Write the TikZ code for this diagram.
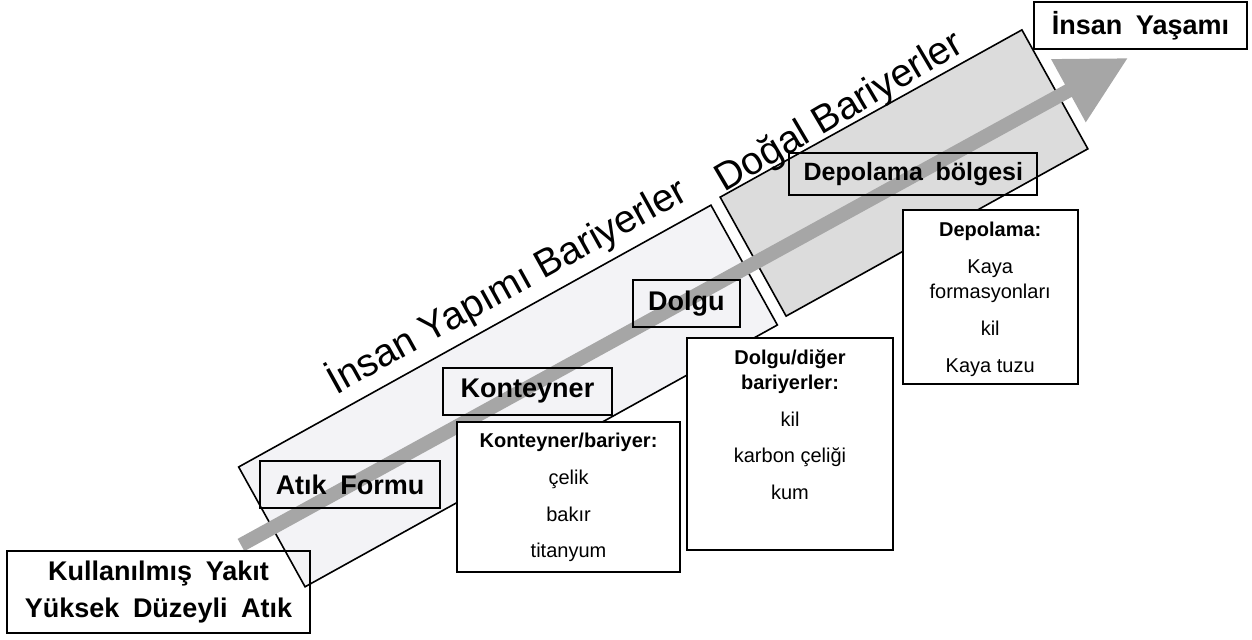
\documentclass[tikz,border=0pt]{standalone}
\usepackage{fontspec}
\setmainfont{Liberation Sans}
\newfontfamily\etiketfont[WordSpace=1.8]{Liberation Sans}
\usetikzlibrary{positioning,arrows.meta}

\definecolor{yapimgri}{HTML}{F3F3F6}
\definecolor{dogalgri}{HTML}{DCDCDC}
\definecolor{okgri}{HTML}{A6A6A6}

\tikzset{
  bant/.style={draw=black, line width=0.8pt, rotate=29, inner sep=0pt},
  etiket/.style={draw=black, line width=1pt, inner sep=0pt, align=center,
    font=\etiketfont\bfseries\fontsize{13.5}{18.5}\selectfont},
  bilgikutu/.style={draw=black, fill=white, line width=1pt, inner sep=0pt},
  bilgiyazi/.style={inner sep=0pt, align=center, font=\fontsize{10}{12.5}\selectfont},
  bantyazi/.style={anchor=base, inner sep=0pt, font=\fontsize{19.5}{22}\selectfont}
}

\begin{document}
\begin{tikzpicture}[x=0.5pt,y=-0.5pt]
  \useasboundingbox (0,0) rectangle (1252,640);
  % bariyer bantlari
  \node[bant, fill=yapimgri, minimum width=270pt, minimum height=68.5pt] (yapim) at (508,396) {};
  \node[bant, fill=dogalgri, minimum width=172.5pt, minimum height=68pt] (dogal) at (904,173) {};
  % akis oku
  \coordinate (akisbas) at (241,545);
  \coordinate (akisuc) at (1128,58);
  \draw[okgri, line width=7pt, -{Triangle[length=34pt,width=34pt]}] (akisbas) -- (akisuc);
  % bant etiketleri
  \foreach \ad/\x/\y/\w/\h/\yazi in {atik/350/484.5/90pt/23.8pt/Atık Formu,
      kont/527.5/391.5/84.5pt/23.5pt/Konteyner, dolgu/686.3/303.3/53.7pt/23.3pt/Dolgu}
    \node[etiket, minimum width=\w, minimum height=\h] (\ad) at (\x,\y) {\yazi};
  \node[etiket, minimum width=124pt, minimum height=21.2pt,
    font=\etiketfont\bfseries\fontsize{12.5}{15}\selectfont] (bolge) at (913.3,173.8) {Depolama bölgesi};
  % bilgi kutulari
  \node[bilgikutu, minimum width=111.5pt, minimum height=74.8pt] (kontbilgi) at (568.5,496.8) {};
  \node[bilgiyazi, below=6pt of kontbilgi.north] (kontliste)
    {\textbf{Konteyner/bariyer:}\\[5.8pt]çelik\\[5.8pt]bakır\\[5.8pt]titanyum};
  \node[bilgikutu, minimum width=103pt, minimum height=106pt] (dolgubilgi) at (790,444) {};
  \node[bilgiyazi, below=6pt of dolgubilgi.north] (dolguliste)
    {\textbf{Dolgu/diğer}\\\textbf{bariyerler:}\\[6pt]kil\\[5.8pt]karbon çeliği\\[5.8pt]kum};
  \node[bilgikutu, minimum width=87.5pt, minimum height=87pt] (depobilgi) at (990.2,297) {};
  \node[bilgiyazi, below=6.5pt of depobilgi.north] (depoliste)
    {\textbf{Depolama:}\\[6pt]Kaya\\formasyonları\\[6pt]kil\\[6pt]Kaya tuzu};
  % uc kutular
  \node[etiket, minimum width=151.5pt, minimum height=41pt] (yakit) at (158.5,592)
    {Kullanılmış Yakıt\\Yüksek Düzeyli Atık};
  \node[etiket, minimum width=106.2pt, minimum height=23.7pt] (yasam) at (1140.5,25.3) {İnsan Yaşamı};
  % bant basliklari
  \node[bantyazi, rotate=29] (yapimyazi) at (513,297) {İnsan Yapımı Bariyerler};
  \node[bantyazi, rotate=30.5] (dogalyazi) at (845,121.5) {Doğal Bariyerler};
\end{tikzpicture}
\end{document}
